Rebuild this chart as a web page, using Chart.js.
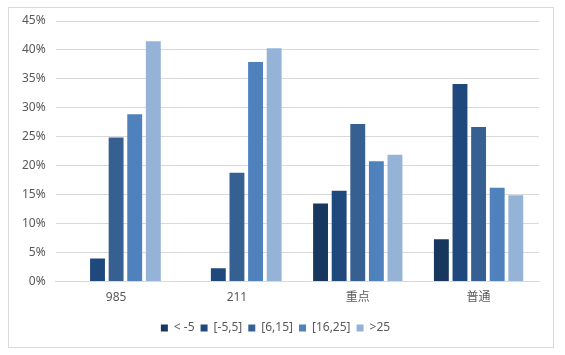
<!DOCTYPE html>
<html>
<head>
<meta charset="utf-8">
<script src="https://cdn.jsdelivr.net/npm/chart.js@4/dist/chart.umd.min.js"></script>
<style>
html,body{margin:0;padding:0;background:#fff;}
#wrap{width:565px;height:355px;position:relative;}
</style>
</head>
<body>
<div id="wrap"><canvas id="c" width="565" height="355"></canvas></div>
<script>
const categories = ['985', '211', '重点', '普通'];
const seriesNames = ['< -5', '[-5,5]', '[6,15]', '[16,25]', '>25'];
const ltMinus5 = [0, 0, 13.5, 7.3];
const minus5to5 = [4.0, 2.3, 15.7, 34.1];
const from6to15 = [24.9, 18.8, 27.2, 26.7];
const from16to25 = [28.9, 37.9, 20.8, 16.2];
const over25 = [41.5, 40.3, 21.9, 14.9];
const yTicks = [0, 5, 10, 15, 20, 25, 30, 35, 40, 45];
const colors = ['#17375E', '#1F497D', '#376092', '#4F81BD', '#95B3D7'];

const seriesValues = [ltMinus5, minus5to5, from6to15, from16to25, over25];
const FONT = "'Noto Sans', 'Noto Sans CJK SC', sans-serif";

const borderPlugin = {
  id: 'outerBorder',
  beforeDraw(chart) {
    const ctx = chart.ctx;
    ctx.save();
    ctx.fillStyle = '#fff';
    ctx.fillRect(0, 0, chart.width, chart.height);
    ctx.strokeStyle = '#D9D9D9';
    ctx.lineWidth = 1;
    ctx.strokeRect(8.5, 7.5, 545, 340);
    ctx.restore();
  }
};

new Chart(document.getElementById('c'), {
  type: 'bar',
  data: {
    labels: categories,
    datasets: seriesNames.map((n, i) => ({
      label: n,
      data: seriesValues[i],
      backgroundColor: colors[i],
      borderWidth: 0,
      barPercentage: 0.8,
      categoryPercentage: 0.77
    }))
  },
  options: {
    responsive: false,
    animation: false,
    devicePixelRatio: 1,
    layout: { padding: { left: 12, right: 26, top: 21, bottom: 11 } },
    plugins: {
      legend: {
        position: 'bottom',
        labels: {
          boxWidth: 7, boxHeight: 7, padding: 6,
          color: '#595959',
          font: { family: FONT, size: 12 }
        }
      },
      tooltip: { enabled: false }
    },
    scales: {
      x: {
        grid: { display: false, drawTicks: false },
        border: { display: true, color: '#D9D9D9' },
        ticks: { color: '#595959', font: { family: FONT, size: 12 }, padding: 8.5 },
        afterFit(axis) { axis.height += 3; }
      },
      y: {
        min: 0, max: 45,
        afterBuildTicks(axis) { axis.ticks = yTicks.map(v => ({ value: v })); },
        grid: { color: '#D9D9D9', drawTicks: false },
        border: { display: false },
        ticks: {
          color: '#595959', font: { family: FONT, size: 12 }, padding: 10,
          callback: v => v + '%'
        }
      }
    }
  },
  plugins: [borderPlugin]
});
</script>
</body>
</html>
